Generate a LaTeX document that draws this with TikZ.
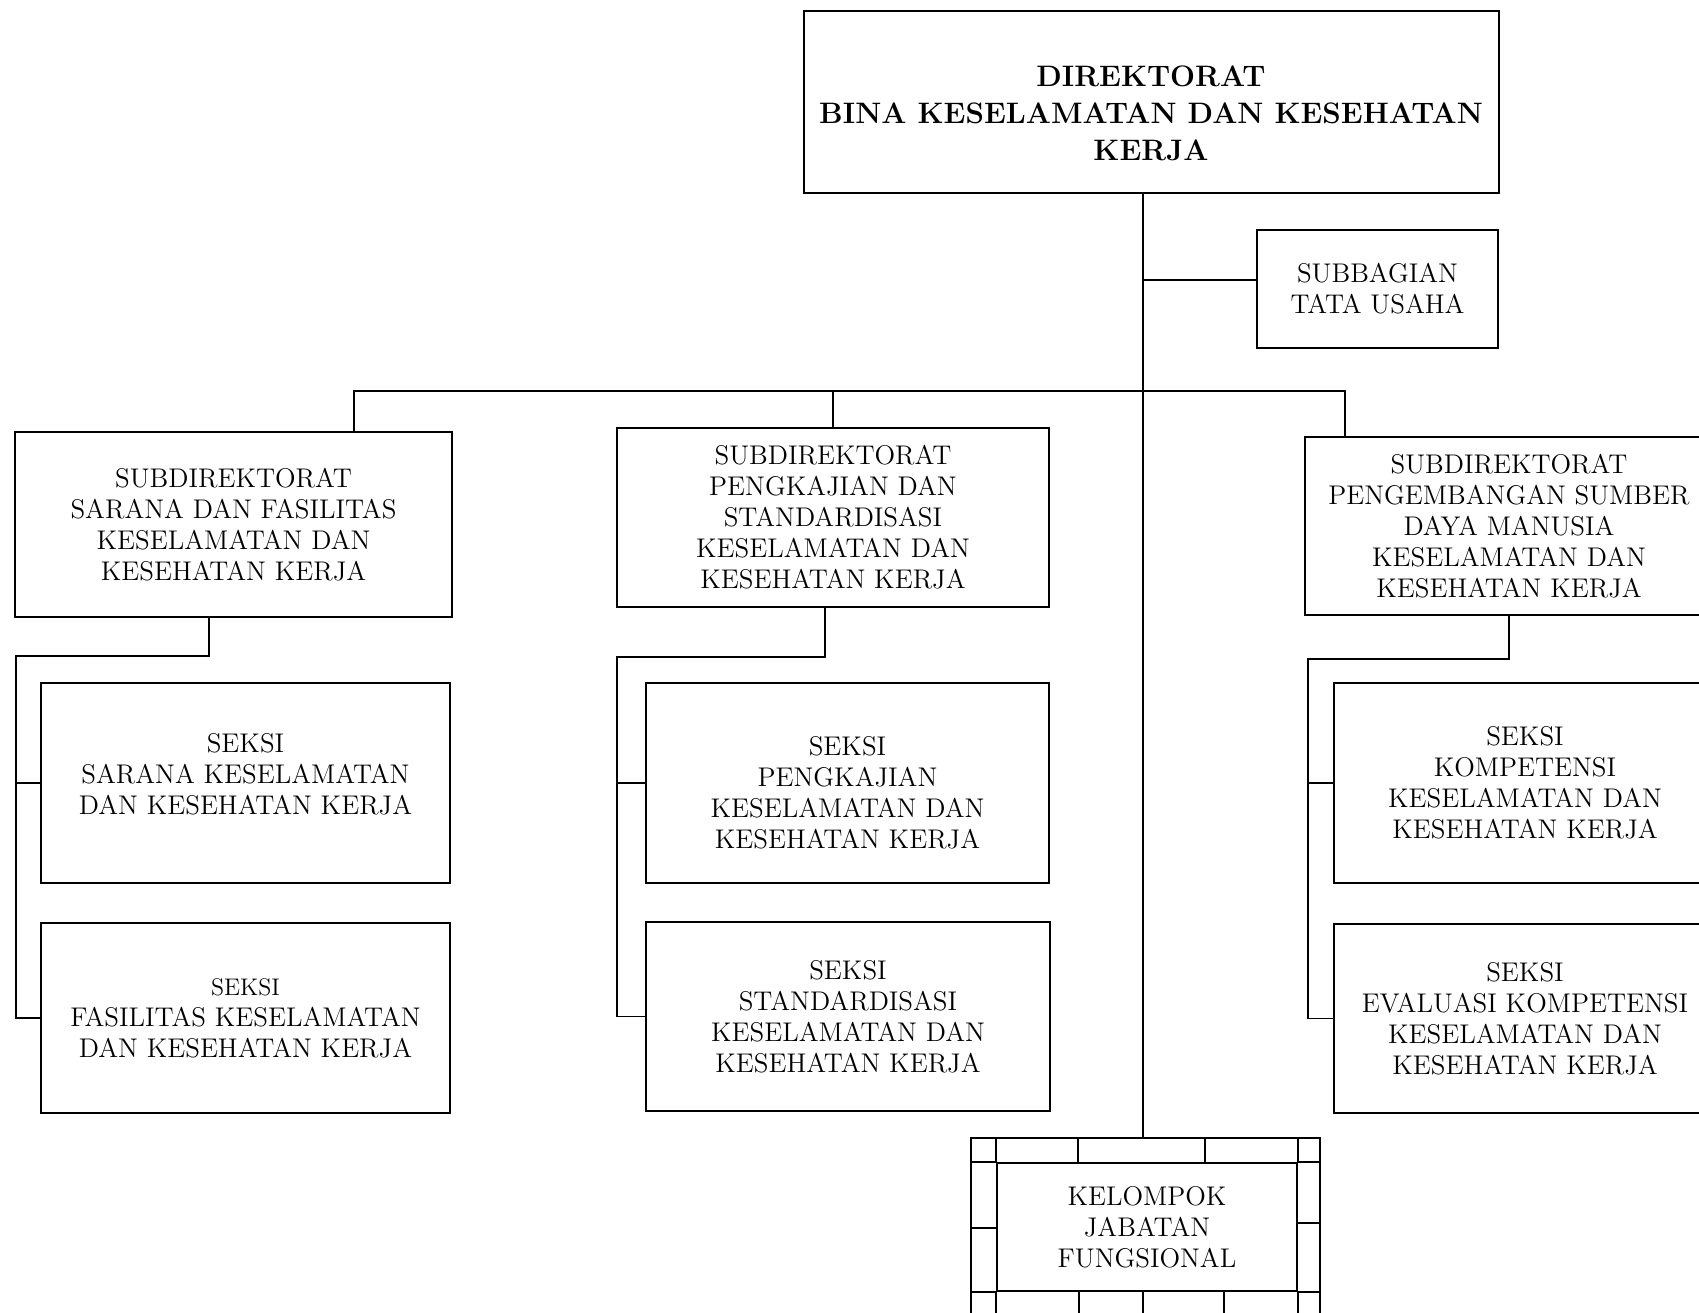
\documentclass[tikz,border=0pt]{standalone}
\usetikzlibrary{positioning}

\begin{document}
\begin{tikzpicture}[x=0.5pt,y=-0.5pt,
  unit/.style={draw,line width=1pt,align=center,inner sep=0pt,
    font=\fontsize{13.5}{15.5}\selectfont},
  link/.style={line width=0.9pt}]
\clip (0,0) rectangle (1699,1313);

\coordinate (trunk) at (1143,391);
\coordinate (tuj) at (1143,280);
\coordinate (busL) at (354,391);
\coordinate (busR) at (1345,391);
\coordinate (dA) at (209,656);
\coordinate (rA) at (16,656);
\coordinate (dB) at (825,657);
\coordinate (rB) at (617,657);
\coordinate (dC) at (1509,659);
\coordinate (rC) at (1308,659);

\node[unit,minimum width=347.5pt,minimum height=91pt,
  font=\fontsize{14.8}{18.5}\selectfont\bfseries] (dir) at (1151,102)
  {\rule{0pt}{22pt}DIREKTORAT\\BINA KESELAMATAN DAN KESEHATAN\\KERJA};
\node[unit,minimum width=120.5pt,minimum height=59pt] (tu) at (1377.5,289)
  {SUBBAGIAN\\TATA USAHA};

\node[unit,minimum width=218.5pt,minimum height=92.5pt] (subA) at (233.5,524.5)
  {SUBDIREKTORAT\\SARANA DAN FASILITAS\\KESELAMATAN DAN\\KESEHATAN KERJA};
\node[unit,minimum width=216pt,minimum height=89.5pt] (subB) at (833,517.5)
  {SUBDIREKTORAT\\PENGKAJIAN DAN\\STANDARDISASI\\KESELAMATAN DAN\\KESEHATAN KERJA};
\node[unit,minimum width=204pt,minimum height=89pt] (subC) at (1509,526)
  {SUBDIREKTORAT\\PENGEMBANGAN SUMBER\\DAYA MANUSIA\\KESELAMATAN DAN\\KESEHATAN KERJA};

\node[unit,minimum width=204.5pt,minimum height=100pt] (sA1) at (245.5,783)
  {SEKSI\\SARANA KESELAMATAN\\DAN KESEHATAN KERJA\rule[-9pt]{0pt}{9pt}};
\node[unit,minimum width=204.5pt,minimum height=95pt] (sA2) at (245.5,1018)
  {{\fontsize{12}{15.5}\selectfont SEKSI}\\FASILITAS KESELAMATAN\\DAN KESEHATAN KERJA};
\node[unit,minimum width=201.5pt,minimum height=100pt] (sB1) at (847.5,783)
  {\rule{0pt}{19pt}SEKSI\\PENGKAJIAN\\KESELAMATAN DAN\\KESEHATAN KERJA};
\node[unit,minimum width=202pt,minimum height=94.5pt] (sB2) at (848,1016.5)
  {SEKSI\\STANDARDISASI\\KESELAMATAN DAN\\KESEHATAN KERJA};
\node[unit,minimum width=191pt,minimum height=100pt] (sC1) at (1525,783)
  {SEKSI\\KOMPETENSI\\KESELAMATAN DAN\\KESEHATAN KERJA};
\node[unit,minimum width=191pt,minimum height=94.5pt] (sC2) at (1525,1018.5)
  {SEKSI\\EVALUASI KOMPETENSI\\KESELAMATAN DAN\\KESEHATAN KERJA};

\node[draw,line width=1pt,inner sep=0pt,minimum width=174.5pt,minimum height=96pt]
  (kjfframe) at (1145.5,1234) {};
\node[unit,minimum width=150pt,minimum height=64pt] (kjf) at (1147,1227)
  {KELOMPOK\\JABATAN\\FUNGSIONAL};

\draw[link] (dir.south -| trunk) -- (kjfframe.north -| trunk);
\draw[link] (tuj) -- (tuj -| tu.west);
\draw[link] (subA.north -| busL) -- (busL) -- (busR) -- (subC.north -| busR);
\draw[link] (subB.north) -- (subB.north |- busL);

\draw[link] (subA.south -| dA) -- (dA) -- (rA) |- (sA2.west);
\draw[link] (rA |- sA1.west) -- (sA1.west);
\draw[link] (subB.south -| dB) -- (dB) -- (rB) |- (sB2.west);
\draw[link] (rB |- sB1.west) -- (sB1.west);
\draw[link] (subC.south -| dC) -- (dC) -- (rC) |- (sC2.west);
\draw[link] (rC |- sC1.west) -- (sC1.west);

\draw[link] (kjf.north west |- kjfframe.north) -- (kjf.north west)
  (kjf.north east |- kjfframe.north) -- (kjf.north east)
  (kjf.south west) -- (kjf.south west |- kjfframe.south)
  (kjf.south east) -- (kjf.south east |- kjfframe.south)
  (kjfframe.west |- kjf.north) -- (kjf.north west)
  (kjf.north east) -- (kjfframe.east |- kjf.north)
  (kjfframe.west |- kjf.south) -- (kjf.south west)
  (kjf.south east) -- (kjfframe.east |- kjf.south);
\draw[link] (1078,1138) -- (1078,1163) (1205,1138) -- (1205,1163)
  (1079,1291) -- (1079,1330) (1143,1291) -- (1143,1330) (1224,1291) -- (1224,1330)
  (971,1228) -- (997,1228) (1297,1223) -- (1320,1223);
\end{tikzpicture}
\end{document}
